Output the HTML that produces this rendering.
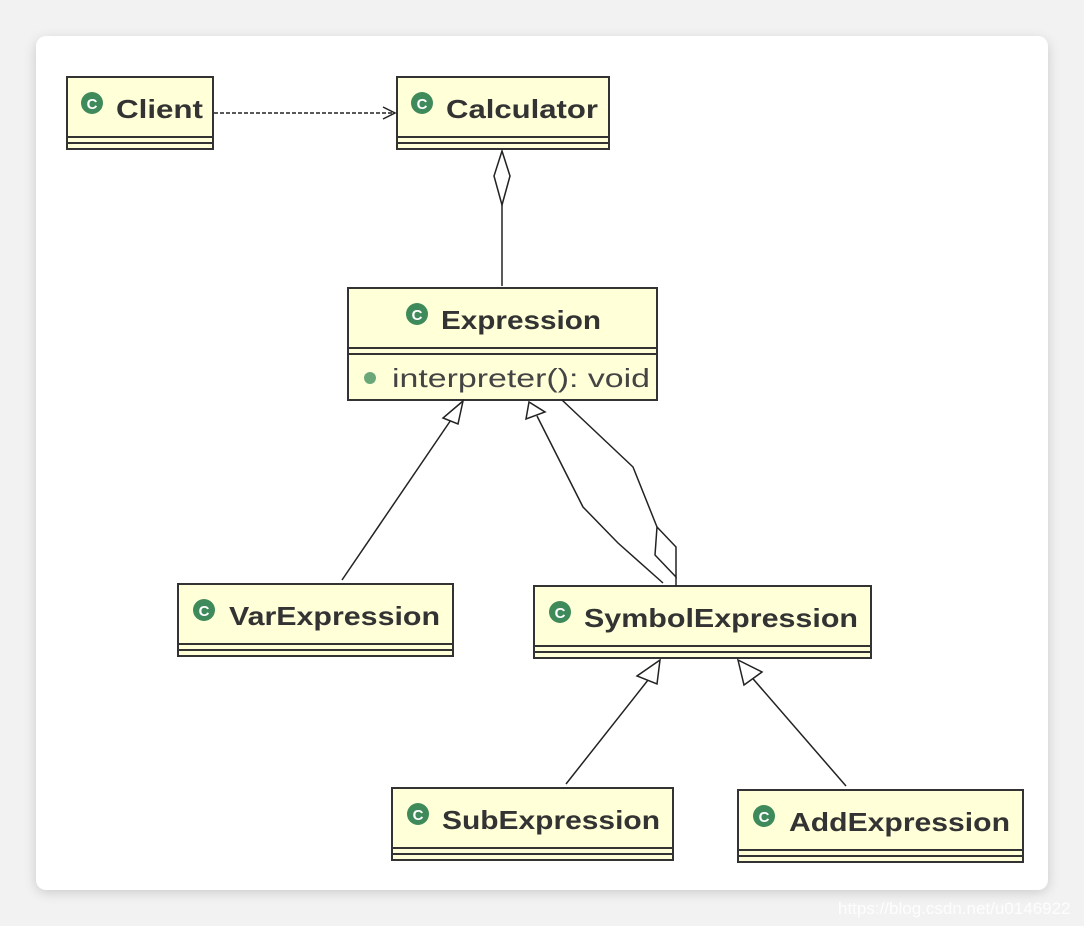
<!DOCTYPE html>
<html><head><meta charset="utf-8"><style>
html,body{margin:0;padding:0;background:#f2f2f2;width:1084px;height:926px;overflow:hidden}
svg{display:block}
text{font-family:"Liberation Sans","DejaVu Sans",sans-serif}
.t{font-weight:bold;font-size:26px;fill:#333}
</style></head><body>
<svg width="1084" height="926" viewBox="0 0 1084 926" xmlns="http://www.w3.org/2000/svg">
<defs><filter id="sh" x="-5%" y="-5%" width="110%" height="110%"><feGaussianBlur stdDeviation="6"/></filter></defs>
<rect x="36" y="40" width="1012" height="852" rx="10" fill="#c8c8c8" filter="url(#sh)"/>
<rect x="36" y="36" width="1012" height="854" rx="10" fill="#fff"/>
<g stroke="#333" stroke-width="2" fill="#ffffd8">
<rect x="67" y="77" width="146" height="72"/>
<rect x="397" y="77" width="212" height="72"/>
<rect x="348" y="288" width="309" height="112"/>
<rect x="178" y="584" width="275" height="72"/>
<rect x="534" y="586" width="337" height="72"/>
<rect x="392" y="788" width="281" height="72"/>
<rect x="738" y="790" width="285" height="72"/>
</g>
<g stroke="#333" stroke-width="2">
<line x1="67" y1="137" x2="213" y2="137"/><line x1="67" y1="143" x2="213" y2="143"/>
<line x1="397" y1="137" x2="609" y2="137"/><line x1="397" y1="143" x2="609" y2="143"/>
<line x1="348" y1="348" x2="657" y2="348"/><line x1="348" y1="354" x2="657" y2="354"/>
<line x1="178" y1="644" x2="453" y2="644"/><line x1="178" y1="650" x2="453" y2="650"/>
<line x1="534" y1="646" x2="871" y2="646"/><line x1="534" y1="652" x2="871" y2="652"/>
<line x1="392" y1="848" x2="673" y2="848"/><line x1="392" y1="854" x2="673" y2="854"/>
<line x1="738" y1="850" x2="1023" y2="850"/><line x1="738" y1="856" x2="1023" y2="856"/>
</g>
<g fill="#3f8a5a">
<circle cx="92" cy="103" r="11"/><circle cx="422" cy="103" r="11"/><circle cx="417" cy="314" r="11"/>
<circle cx="204" cy="610" r="11"/><circle cx="560" cy="612" r="11"/><circle cx="418" cy="814" r="11"/><circle cx="764" cy="816" r="11"/>
<circle cx="370" cy="378" r="6" fill="#6aa87a"/>
</g>
<g fill="#fff" font-size="15" font-weight="bold" text-anchor="middle">
<text x="92" y="109">C</text><text x="422" y="109">C</text><text x="417" y="320">C</text>
<text x="204" y="616">C</text><text x="560" y="618">C</text><text x="418" y="820">C</text><text x="764" y="822">C</text>
</g>
<text class="t" x="116" y="118" textLength="87" lengthAdjust="spacingAndGlyphs">Client</text>
<text class="t" x="446" y="118" textLength="152" lengthAdjust="spacingAndGlyphs">Calculator</text>
<text class="t" x="441" y="329" textLength="160" lengthAdjust="spacingAndGlyphs">Expression</text>
<text x="392" y="387" font-size="26" fill="#444" textLength="258" lengthAdjust="spacingAndGlyphs">interpreter(): void</text>
<text class="t" x="229" y="625" textLength="211" lengthAdjust="spacingAndGlyphs">VarExpression</text>
<text class="t" x="584" y="627" textLength="274" lengthAdjust="spacingAndGlyphs">SymbolExpression</text>
<text class="t" x="442" y="829" textLength="218" lengthAdjust="spacingAndGlyphs">SubExpression</text>
<text class="t" x="789" y="831" textLength="221" lengthAdjust="spacingAndGlyphs">AddExpression</text>
<g stroke="#222" stroke-width="1.5" fill="none">
<line x1="214" y1="113" x2="395" y2="113" stroke-dasharray="4,2"/>
<polyline points="383,107 395,113 383,119"/>
<polygon points="502,151 494,176 502,205 510,176" fill="#fff"/>
<line x1="502" y1="205" x2="502" y2="286"/>
<line x1="342" y1="580" x2="455" y2="414"/>
<polygon points="463,401 443,418 458,424" fill="#fff"/>
<polyline points="663,583 618,543 583,507 537,416"/>
<polygon points="529,402 526,419 545,412" fill="#fff"/>
<polyline points="562,400 633,467 657,527"/>
<polygon points="657,527 655,555 676,577 676,547" fill="#fff"/>
<line x1="676" y1="577" x2="676" y2="586"/>
<line x1="566" y1="784" x2="652" y2="675"/>
<polygon points="660,660 637,676 657,684" fill="#fff"/>
<line x1="846" y1="786" x2="748" y2="673"/>
<polygon points="738,660 744,685 762,672" fill="#fff"/>
</g>
<text x="838" y="914" font-size="17" fill="#fff" opacity="0.9">https://blog.csdn.net/u0146922</text>
</svg>
</body></html>
